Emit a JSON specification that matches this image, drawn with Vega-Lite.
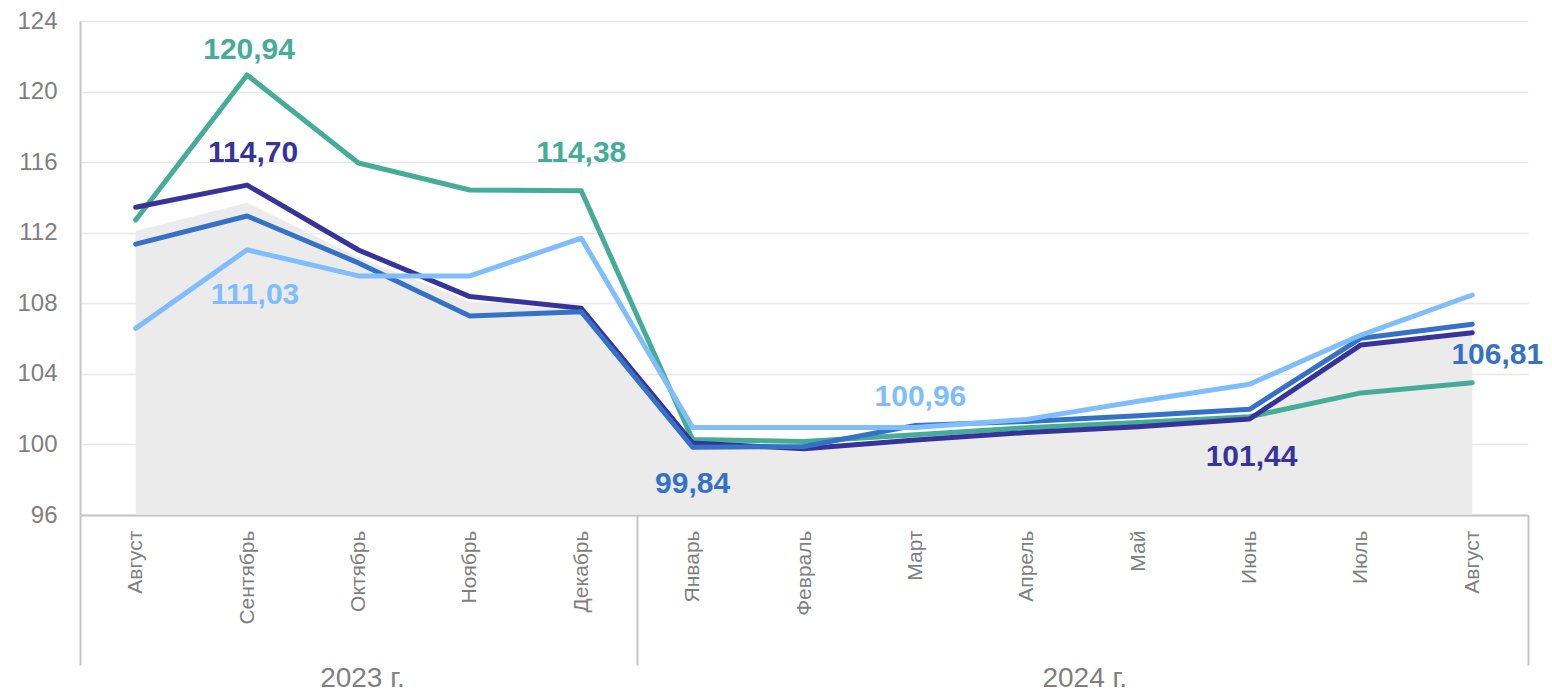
{
  "$schema": "https://vega.github.io/schema/vega-lite/v6.json",
  "width": 1448,
  "height": 494,
  "autosize": {"type": "none"},
  "padding": {"left": 80, "top": 21, "right": 24, "bottom": 183},
  "background": "white",
  "config": {"view": {"stroke": null}, "font": "Liberation Sans"},
  "datasets": {
    "series": [
      {"month": "Август 2023", "series": "E", "value": 112.1},
      {"month": "Сентябрь 2023", "series": "E", "value": 113.7},
      {"month": "Октябрь 2023", "series": "E", "value": 110.6},
      {"month": "Ноябрь 2023", "series": "E", "value": 108.1},
      {"month": "Декабрь 2023", "series": "E", "value": 107.6},
      {"month": "Январь 2024", "series": "E", "value": 100.05},
      {"month": "Февраль 2024", "series": "E", "value": 99.9},
      {"month": "Март 2024", "series": "E", "value": 100.3},
      {"month": "Апрель 2024", "series": "E", "value": 100.7},
      {"month": "Май 2024", "series": "E", "value": 101.0},
      {"month": "Июнь 2024", "series": "E", "value": 101.45},
      {"month": "Июль 2024", "series": "E", "value": 105.6},
      {"month": "Август 2024", "series": "E", "value": 106.2},

      {"month": "Август 2023", "series": "A", "value": 112.72},
      {"month": "Сентябрь 2023", "series": "A", "value": 120.94},
      {"month": "Октябрь 2023", "series": "A", "value": 115.95},
      {"month": "Ноябрь 2023", "series": "A", "value": 114.42},
      {"month": "Декабрь 2023", "series": "A", "value": 114.38},
      {"month": "Январь 2024", "series": "A", "value": 100.28},
      {"month": "Февраль 2024", "series": "A", "value": 100.16},
      {"month": "Март 2024", "series": "A", "value": 100.55},
      {"month": "Апрель 2024", "series": "A", "value": 100.95},
      {"month": "Май 2024", "series": "A", "value": 101.25},
      {"month": "Июнь 2024", "series": "A", "value": 101.57},
      {"month": "Июль 2024", "series": "A", "value": 102.92},
      {"month": "Август 2024", "series": "A", "value": 103.5},

      {"month": "Август 2023", "series": "B", "value": 113.44},
      {"month": "Сентябрь 2023", "series": "B", "value": 114.70},
      {"month": "Октябрь 2023", "series": "B", "value": 111.02},
      {"month": "Ноябрь 2023", "series": "B", "value": 108.38},
      {"month": "Декабрь 2023", "series": "B", "value": 107.72},
      {"month": "Январь 2024", "series": "B", "value": 100.08},
      {"month": "Февраль 2024", "series": "B", "value": 99.76},
      {"month": "Март 2024", "series": "B", "value": 100.25},
      {"month": "Апрель 2024", "series": "B", "value": 100.68},
      {"month": "Май 2024", "series": "B", "value": 101.0},
      {"month": "Июнь 2024", "series": "B", "value": 101.44},
      {"month": "Июль 2024", "series": "B", "value": 105.64},
      {"month": "Август 2024", "series": "B", "value": 106.33},

      {"month": "Август 2023", "series": "C", "value": 111.35},
      {"month": "Сентябрь 2023", "series": "C", "value": 112.95},
      {"month": "Октябрь 2023", "series": "C", "value": 110.29},
      {"month": "Ноябрь 2023", "series": "C", "value": 107.28},
      {"month": "Декабрь 2023", "series": "C", "value": 107.52},
      {"month": "Январь 2024", "series": "C", "value": 99.84},
      {"month": "Февраль 2024", "series": "C", "value": 99.88},
      {"month": "Март 2024", "series": "C", "value": 101.08},
      {"month": "Апрель 2024", "series": "C", "value": 101.3},
      {"month": "Май 2024", "series": "C", "value": 101.62},
      {"month": "Июнь 2024", "series": "C", "value": 101.99},
      {"month": "Июль 2024", "series": "C", "value": 106.02},
      {"month": "Август 2024", "series": "C", "value": 106.81},

      {"month": "Август 2023", "series": "D", "value": 106.58},
      {"month": "Сентябрь 2023", "series": "D", "value": 111.03},
      {"month": "Октябрь 2023", "series": "D", "value": 109.55},
      {"month": "Ноябрь 2023", "series": "D", "value": 109.55},
      {"month": "Декабрь 2023", "series": "D", "value": 111.69},
      {"month": "Январь 2024", "series": "D", "value": 100.96},
      {"month": "Февраль 2024", "series": "D", "value": 100.96},
      {"month": "Март 2024", "series": "D", "value": 100.96},
      {"month": "Апрель 2024", "series": "D", "value": 101.42},
      {"month": "Май 2024", "series": "D", "value": 102.45},
      {"month": "Июнь 2024", "series": "D", "value": 103.41},
      {"month": "Июль 2024", "series": "D", "value": 106.2},
      {"month": "Август 2024", "series": "D", "value": 108.47}
    ],
    "labels": [
      {"month": "Сентябрь 2023", "series": "A", "value": 120.94, "label": "120,94"},
      {"month": "Сентябрь 2023", "series": "B", "value": 114.70, "label": "114,70"},
      {"month": "Сентябрь 2023", "series": "D", "value": 111.03, "label": "111,03"},
      {"month": "Декабрь 2023", "series": "A", "value": 114.38, "label": "114,38"},
      {"month": "Январь 2024", "series": "C", "value": 99.84, "label": "99,84"},
      {"month": "Март 2024", "series": "D", "value": 100.96, "label": "100,96"},
      {"month": "Июнь 2024", "series": "B", "value": 101.44, "label": "101,44"},
      {"month": "Август 2024", "series": "C", "value": 106.81, "label": "106,81"}
    ]
  },
  "layer": [
    {
      "data": {"name": "series"},
      "transform": [{"filter": "datum.series === 'E'"}],
      "mark": {"type": "area", "color": "#ebebeb", "clip": true},
      "encoding": {
        "x": {
          "field": "month", "type": "ordinal", "title": null, "bandPosition": 0.5,
          "sort": ["Август 2023", "Сентябрь 2023", "Октябрь 2023", "Ноябрь 2023", "Декабрь 2023", "Январь 2024", "Февраль 2024", "Март 2024", "Апрель 2024", "Май 2024", "Июнь 2024", "Июль 2024", "Август 2024"],
          "scale": {"type": "band", "paddingInner": 0, "paddingOuter": 0},
          "axis": {
            "orient": "bottom",
            "labelExpr": "split(datum.label, ' ')[0]",
            "labelAngle": 270,
            "labelAlign": "right",
            "labelBaseline": "middle",
            "labelFontSize": 21,
            "labelColor": "#7f7f7f",
            "labelPadding": -135,
            "labelOverlap": false,
            "tickBand": "extent",
            "tickSize": 150,
            "tickWidth": 2,
            "tickColor": {"condition": {"test": "datum.value === 'Декабрь 2023' || datum.value === 'Август 2024' || datum.extra", "value": "#c4c4c4"}, "value": "rgba(0,0,0,0)"},
            "domainColor": "#c4c4c4",
            "domainWidth": 2,
            "grid": false
          }
        },
        "y": {
          "field": "value", "type": "quantitative", "title": null,
          "scale": {"domain": [96, 124], "nice": false, "zero": false},
          "axis": {
            "values": [96, 100, 104, 108, 112, 116, 120, 124],
            "labelFontSize": 24,
            "labelColor": "#7f7f7f",
            "labelPadding": 23,
            "ticks": false,
            "domainColor": "#c4c4c4",
            "domainWidth": 2,
            "gridColor": "#e8e8e8",
            "gridWidth": 1.5
          }
        }
      }
    },
    {
      "data": {"name": "series"},
      "transform": [{"filter": "datum.series !== 'E'"}],
      "mark": {"type": "line", "strokeWidth": 5, "strokeCap": "round", "strokeJoin": "round"},
      "encoding": {
        "x": {"field": "month", "type": "ordinal", "bandPosition": 0.5, "title": null, "axis": null, "sort": ["Август 2023", "Сентябрь 2023", "Октябрь 2023", "Ноябрь 2023", "Декабрь 2023", "Январь 2024", "Февраль 2024", "Март 2024", "Апрель 2024", "Май 2024", "Июнь 2024", "Июль 2024", "Август 2024"]},
        "y": {"field": "value", "type": "quantitative", "title": null},
        "color": {"field": "series", "type": "nominal", "legend": null, "scale": {"domain": ["A", "B", "C", "D"], "range": ["#45ad97", "#36339a", "#3572c6", "#80bdfd"]}}
      }
    },
    {
      "data": {"name": "labels"},
      "transform": [{"filter": "datum.label === '120,94'"}],
      "mark": {"type": "text", "dx": 2, "dy": -25, "fontSize": 30, "fontWeight": "bold"},
      "encoding": {
        "x": {
          "field": "month", "type": "ordinal", "bandPosition": 0.5, "title": null,
          "sort": ["Август 2023", "Сентябрь 2023", "Октябрь 2023", "Ноябрь 2023", "Декабрь 2023", "Январь 2024", "Февраль 2024", "Март 2024", "Апрель 2024", "Май 2024", "Июнь 2024", "Июль 2024", "Август 2024"],
          "axis": {
            "orient": "bottom",
            "values": ["Октябрь 2023", "Апрель 2024"],
            "labelExpr": "split(datum.label, ' ')[1] + ' г.'",
            "labelOffset": {"condition": {"test": "datum.value === 'Апрель 2024'", "value": 58}, "value": 4},
            "labelAngle": 0,
            "labelAlign": "center",
            "labelBaseline": "top",
            "labelFontSize": 28,
            "labelColor": "#7f7f7f",
            "labelOverlap": false,
            "ticks": false,
            "domain": false,
            "grid": false,
            "offset": 146,
            "labelPadding": 3
          }
        },
        "y": {"field": "value", "type": "quantitative", "title": null},
        "text": {"field": "label"},
        "color": {"field": "series", "type": "nominal", "legend": null}
      }
    },
    {
      "data": {"name": "labels"},
      "transform": [{"filter": "datum.label === '114,70'"}],
      "mark": {"type": "text", "dx": 6, "dy": -32, "fontSize": 30, "fontWeight": "bold"},
      "encoding": {
        "x": {"field": "month", "type": "ordinal", "bandPosition": 0.5, "axis": null, "sort": ["Август 2023", "Сентябрь 2023", "Октябрь 2023", "Ноябрь 2023", "Декабрь 2023", "Январь 2024", "Февраль 2024", "Март 2024", "Апрель 2024", "Май 2024", "Июнь 2024", "Июль 2024", "Август 2024"]},
        "y": {"field": "value", "type": "quantitative", "title": null},
        "text": {"field": "label"},
        "color": {"field": "series", "type": "nominal", "legend": null}
      }
    },
    {
      "data": {"name": "labels"},
      "transform": [{"filter": "datum.label === '111,03'"}],
      "mark": {"type": "text", "dx": 8, "dy": 45, "fontSize": 30, "fontWeight": "bold"},
      "encoding": {
        "x": {"field": "month", "type": "ordinal", "bandPosition": 0.5, "axis": null, "sort": ["Август 2023", "Сентябрь 2023", "Октябрь 2023", "Ноябрь 2023", "Декабрь 2023", "Январь 2024", "Февраль 2024", "Март 2024", "Апрель 2024", "Май 2024", "Июнь 2024", "Июль 2024", "Август 2024"]},
        "y": {"field": "value", "type": "quantitative", "title": null},
        "text": {"field": "label"},
        "color": {"field": "series", "type": "nominal", "legend": null}
      }
    },
    {
      "data": {"name": "labels"},
      "transform": [{"filter": "datum.label === '114,38'"}],
      "mark": {"type": "text", "dx": 0, "dy": -38, "fontSize": 30, "fontWeight": "bold"},
      "encoding": {
        "x": {"field": "month", "type": "ordinal", "bandPosition": 0.5, "axis": null, "sort": ["Август 2023", "Сентябрь 2023", "Октябрь 2023", "Ноябрь 2023", "Декабрь 2023", "Январь 2024", "Февраль 2024", "Март 2024", "Апрель 2024", "Май 2024", "Июнь 2024", "Июль 2024", "Август 2024"]},
        "y": {"field": "value", "type": "quantitative", "title": null},
        "text": {"field": "label"},
        "color": {"field": "series", "type": "nominal", "legend": null}
      }
    },
    {
      "data": {"name": "labels"},
      "transform": [{"filter": "datum.label === '99,84'"}],
      "mark": {"type": "text", "dx": 0, "dy": 37, "fontSize": 30, "fontWeight": "bold"},
      "encoding": {
        "x": {"field": "month", "type": "ordinal", "bandPosition": 0.5, "axis": null, "sort": ["Август 2023", "Сентябрь 2023", "Октябрь 2023", "Ноябрь 2023", "Декабрь 2023", "Январь 2024", "Февраль 2024", "Март 2024", "Апрель 2024", "Май 2024", "Июнь 2024", "Июль 2024", "Август 2024"]},
        "y": {"field": "value", "type": "quantitative", "title": null},
        "text": {"field": "label"},
        "color": {"field": "series", "type": "nominal", "legend": null}
      }
    },
    {
      "data": {"name": "labels"},
      "transform": [{"filter": "datum.label === '100,96'"}],
      "mark": {"type": "text", "dx": 5, "dy": -30, "fontSize": 30, "fontWeight": "bold"},
      "encoding": {
        "x": {"field": "month", "type": "ordinal", "bandPosition": 0.5, "axis": null, "sort": ["Август 2023", "Сентябрь 2023", "Октябрь 2023", "Ноябрь 2023", "Декабрь 2023", "Январь 2024", "Февраль 2024", "Март 2024", "Апрель 2024", "Май 2024", "Июнь 2024", "Июль 2024", "Август 2024"]},
        "y": {"field": "value", "type": "quantitative", "title": null},
        "text": {"field": "label"},
        "color": {"field": "series", "type": "nominal", "legend": null}
      }
    },
    {
      "data": {"name": "labels"},
      "transform": [{"filter": "datum.label === '101,44'"}],
      "mark": {"type": "text", "dx": 2, "dy": 38, "fontSize": 30, "fontWeight": "bold"},
      "encoding": {
        "x": {"field": "month", "type": "ordinal", "bandPosition": 0.5, "axis": null, "sort": ["Август 2023", "Сентябрь 2023", "Октябрь 2023", "Ноябрь 2023", "Декабрь 2023", "Январь 2024", "Февраль 2024", "Март 2024", "Апрель 2024", "Май 2024", "Июнь 2024", "Июль 2024", "Август 2024"]},
        "y": {"field": "value", "type": "quantitative", "title": null},
        "text": {"field": "label"},
        "color": {"field": "series", "type": "nominal", "legend": null}
      }
    },
    {
      "data": {"name": "labels"},
      "transform": [{"filter": "datum.label === '106,81'"}],
      "mark": {"type": "text", "dx": 25, "dy": 31, "fontSize": 30, "fontWeight": "bold"},
      "encoding": {
        "x": {"field": "month", "type": "ordinal", "bandPosition": 0.5, "axis": null, "sort": ["Август 2023", "Сентябрь 2023", "Октябрь 2023", "Ноябрь 2023", "Декабрь 2023", "Январь 2024", "Февраль 2024", "Март 2024", "Апрель 2024", "Май 2024", "Июнь 2024", "Июль 2024", "Август 2024"]},
        "y": {"field": "value", "type": "quantitative", "title": null},
        "text": {"field": "label"},
        "color": {"field": "series", "type": "nominal", "legend": null}
      }
    }
  ],
  "resolve": {"axis": {"x": "independent"}}
}
